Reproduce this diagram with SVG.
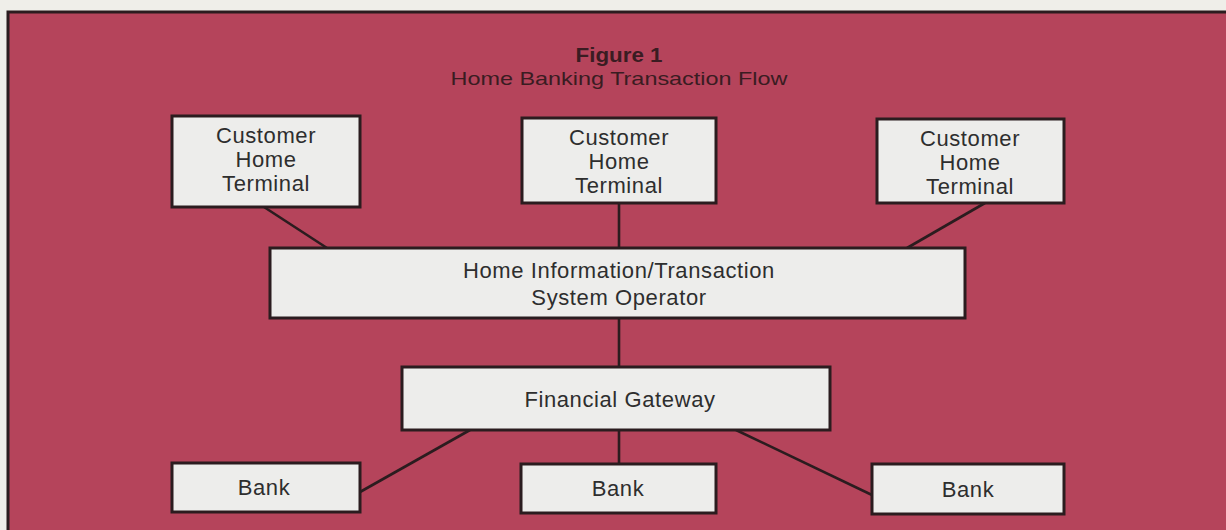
<svg xmlns="http://www.w3.org/2000/svg" width="1226" height="530" viewBox="0 0 1226 530">
  <style>
    .box { fill: #ededeb; stroke: #2b1c1f; stroke-width: 3; }
    .wire { stroke: #2b1c1f; stroke-width: 2.6; fill: none; }
    .lbl { font-family: "Liberation Sans", Arial, sans-serif; font-size: 22px; letter-spacing: 0.6px; fill: #2e2e2e; text-anchor: middle; }
    .ttl { font-family: "Liberation Sans", Arial, sans-serif; fill: #3a1c22; text-anchor: middle; }
  </style>

  <!-- page and red panel -->
  <rect x="0" y="0" width="1226" height="530" fill="#efeee9"/>
  <rect x="8" y="12" width="1230" height="530" fill="#b5445b" stroke="#2b1c1f" stroke-width="3"/>

  <!-- heading -->
  <g id="title">
    <text class="ttl" x="619" y="62" font-size="20" font-weight="bold" textLength="87" lengthAdjust="spacingAndGlyphs">Figure 1</text>
    <text class="ttl" x="619" y="85" font-size="19" textLength="337" lengthAdjust="spacingAndGlyphs">Home Banking Transaction Flow</text>
  </g>

  <!-- links between nodes -->
  <g id="connectors">
    <line class="wire" x1="264" y1="207" x2="327" y2="248"/>
    <line class="wire" x1="619" y1="203" x2="619" y2="248"/>
    <line class="wire" x1="985" y1="203" x2="907" y2="248"/>
    <line class="wire" x1="619" y1="318" x2="619" y2="367"/>
    <line class="wire" x1="470" y1="430" x2="360" y2="492"/>
    <line class="wire" x1="619" y1="430" x2="619" y2="464"/>
    <line class="wire" x1="736" y1="430" x2="872" y2="495"/>
  </g>

  <g id="terminal-left">
    <rect class="box" x="172" y="116" width="188" height="91"/>
    <text class="lbl" x="266" y="143">Customer</text>
    <text class="lbl" x="266" y="167">Home</text>
    <text class="lbl" x="266" y="191">Terminal</text>
  </g>

  <g id="terminal-middle">
    <rect class="box" x="522" y="118" width="194" height="85"/>
    <text class="lbl" x="619" y="145">Customer</text>
    <text class="lbl" x="619" y="169">Home</text>
    <text class="lbl" x="619" y="193">Terminal</text>
  </g>

  <g id="terminal-right">
    <rect class="box" x="877" y="119" width="187" height="84"/>
    <text class="lbl" x="970" y="146">Customer</text>
    <text class="lbl" x="970" y="170">Home</text>
    <text class="lbl" x="970" y="194">Terminal</text>
  </g>

  <g id="system-operator">
    <rect class="box" x="270" y="248" width="695" height="70"/>
    <text class="lbl" x="619" y="278">Home Information/Transaction</text>
    <text class="lbl" x="619" y="305">System Operator</text>
  </g>

  <g id="financial-gateway">
    <rect class="box" x="402" y="367" width="428" height="63"/>
    <text class="lbl" x="620" y="407">Financial Gateway</text>
  </g>

  <g id="bank-left">
    <rect class="box" x="172" y="463" width="188" height="49"/>
    <text class="lbl" x="264" y="495">Bank</text>
  </g>

  <g id="bank-middle">
    <rect class="box" x="521" y="464" width="195" height="49"/>
    <text class="lbl" x="618" y="496">Bank</text>
  </g>

  <g id="bank-right">
    <rect class="box" x="872" y="464" width="192" height="50"/>
    <text class="lbl" x="968" y="497">Bank</text>
  </g>
</svg>
